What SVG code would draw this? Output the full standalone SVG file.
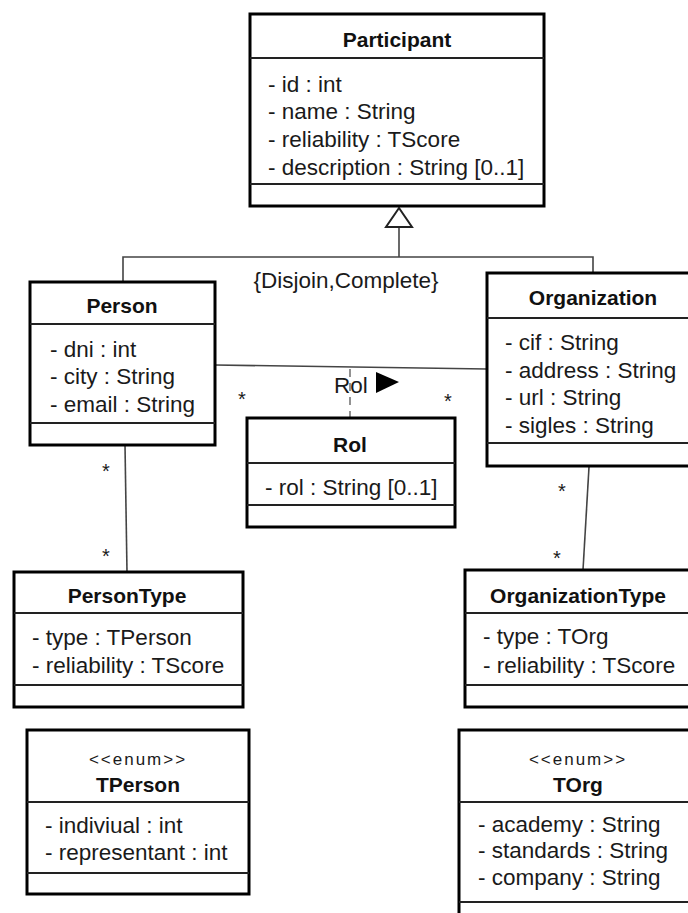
<svg xmlns="http://www.w3.org/2000/svg" width="688" height="913" viewBox="0 0 688 913">
  <style>
    .box { fill: #ffffff; stroke: #000000; stroke-width: 3; }
    .div { stroke: #222222; stroke-width: 1.8; }
    .ttl { font-family: "Liberation Sans", Arial, sans-serif; font-size: 21px; font-weight: bold; fill: #111111; text-anchor: middle; }
    .att { font-family: "Liberation Sans", Arial, sans-serif; font-size: 22.5px; fill: #1a1a1a; }
    .ster { font-family: "Liberation Sans", Arial, sans-serif; font-size: 17px; fill: #1a1a1a; text-anchor: middle; letter-spacing: 2px; }
    .mult { font-family: "Liberation Sans", Arial, sans-serif; font-size: 20px; fill: #1a1a1a; text-anchor: middle; }
    .lbl { font-family: "Liberation Sans", Arial, sans-serif; font-size: 22.5px; fill: #1a1a1a; }
    .ln { fill: none; stroke: #444444; stroke-width: 1.6; }
  </style>
  <rect width="688" height="913" fill="#ffffff"/>

  <!-- connectors -->
  <g id="connectors">
    <!-- generalization -->
    <polyline class="ln" points="123,283 123,257 593,257 593,273"/>
    <line class="ln" x1="399" y1="227" x2="399" y2="257"/>
    <polygon points="399,208 386,227 412,227" fill="#ffffff" stroke="#222222" stroke-width="2"/>
    <text class="lbl" x="346" y="288" text-anchor="middle">{Disjoin,Complete}</text>
    <!-- Person - Organization association -->
    <line class="ln" x1="215" y1="365" x2="487" y2="369"/>
    <line x1="350" y1="369" x2="350" y2="418" stroke="#777777" stroke-width="1.6" stroke-dasharray="8,6"/>
    <text class="lbl" x="334" y="393">Rol</text>
    <polygon points="376,372 376,393 399,382" fill="#000000"/>
    <text class="mult" x="242" y="406">*</text>
    <text class="mult" x="448" y="408">*</text>
    <!-- Person - PersonType -->
    <line class="ln" x1="125" y1="445" x2="127" y2="572"/>
    <text class="mult" x="106" y="478">*</text>
    <text class="mult" x="106" y="563">*</text>
    <!-- Organization - OrganizationType -->
    <line class="ln" x1="589" y1="467" x2="583" y2="570"/>
    <text class="mult" x="562" y="498">*</text>
    <text class="mult" x="557" y="565">*</text>
  </g>

  <g id="Participant">
    <rect class="box" x="250" y="14" width="294" height="192"/>
    <line class="div" x1="250" y1="58" x2="544" y2="58"/>
    <line class="div" x1="250" y1="184" x2="544" y2="184"/>
    <text class="ttl" x="397" y="47">Participant</text>
    <text class="att" x="268" y="92">- id : int</text>
    <text class="att" x="268" y="119">- name : String</text>
    <text class="att" x="268" y="147">- reliability : TScore</text>
    <text class="att" x="268" y="175">- description : String [0..1]</text>
  </g>

  <g id="Person">
    <rect class="box" x="30" y="282" width="185" height="163"/>
    <line class="div" x1="30" y1="324" x2="215" y2="324"/>
    <line class="div" x1="30" y1="423" x2="215" y2="423"/>
    <text class="ttl" x="122" y="313">Person</text>
    <text class="att" x="50" y="357">- dni : int</text>
    <text class="att" x="50" y="384">- city : String</text>
    <text class="att" x="50" y="412">- email : String</text>
  </g>

  <g id="Organization">
    <rect class="box" x="487" y="273" width="213" height="193"/>
    <line class="div" x1="487" y1="318" x2="700" y2="318"/>
    <line class="div" x1="487" y1="443" x2="700" y2="443"/>
    <text class="ttl" x="593" y="305">Organization</text>
    <text class="att" x="505" y="350">- cif : String</text>
    <text class="att" x="505" y="378">- address : String</text>
    <text class="att" x="505" y="405">- url : String</text>
    <text class="att" x="505" y="433">- sigles : String</text>
  </g>

  <g id="Rol">
    <rect class="box" x="247" y="418" width="208" height="109"/>
    <line class="div" x1="247" y1="463" x2="455" y2="463"/>
    <line class="div" x1="247" y1="505" x2="455" y2="505"/>
    <text class="ttl" x="350" y="452">Rol</text>
    <text class="att" x="265" y="495">- rol : String [0..1]</text>
  </g>

  <g id="PersonType">
    <rect class="box" x="14" y="572" width="229" height="135"/>
    <line class="div" x1="14" y1="613" x2="243" y2="613"/>
    <line class="div" x1="14" y1="685" x2="243" y2="685"/>
    <text class="ttl" x="127" y="603">PersonType</text>
    <text class="att" x="32" y="645">- type : TPerson</text>
    <text class="att" x="32" y="673">- reliability : TScore</text>
  </g>

  <g id="OrganizationType">
    <rect class="box" x="465" y="570" width="235" height="137"/>
    <line class="div" x1="465" y1="613" x2="700" y2="613"/>
    <line class="div" x1="465" y1="685" x2="700" y2="685"/>
    <text class="ttl" x="578" y="603">OrganizationType</text>
    <text class="att" x="483" y="644">- type : TOrg</text>
    <text class="att" x="483" y="673">- reliability : TScore</text>
  </g>

  <g id="TPerson">
    <rect class="box" x="27" y="730" width="222" height="164"/>
    <line class="div" x1="27" y1="802" x2="249" y2="802"/>
    <line class="div" x1="27" y1="873" x2="249" y2="873"/>
    <text class="ster" x="138" y="765">&lt;&lt;enum&gt;&gt;</text>
    <text class="ttl" x="138" y="792">TPerson</text>
    <text class="att" x="45" y="833">- indiviual : int</text>
    <text class="att" x="45" y="860">- representant : int</text>
  </g>

  <g id="TOrg">
    <rect class="box" x="459" y="730" width="241" height="200"/>
    <line class="div" x1="459" y1="802" x2="700" y2="802"/>
    <line class="div" x1="459" y1="902" x2="700" y2="902"/>
    <text class="ster" x="578" y="765">&lt;&lt;enum&gt;&gt;</text>
    <text class="ttl" x="578" y="792">TOrg</text>
    <text class="att" x="478" y="832">- academy : String</text>
    <text class="att" x="478" y="858">- standards : String</text>
    <text class="att" x="478" y="885">- company : String</text>
  </g>
</svg>
